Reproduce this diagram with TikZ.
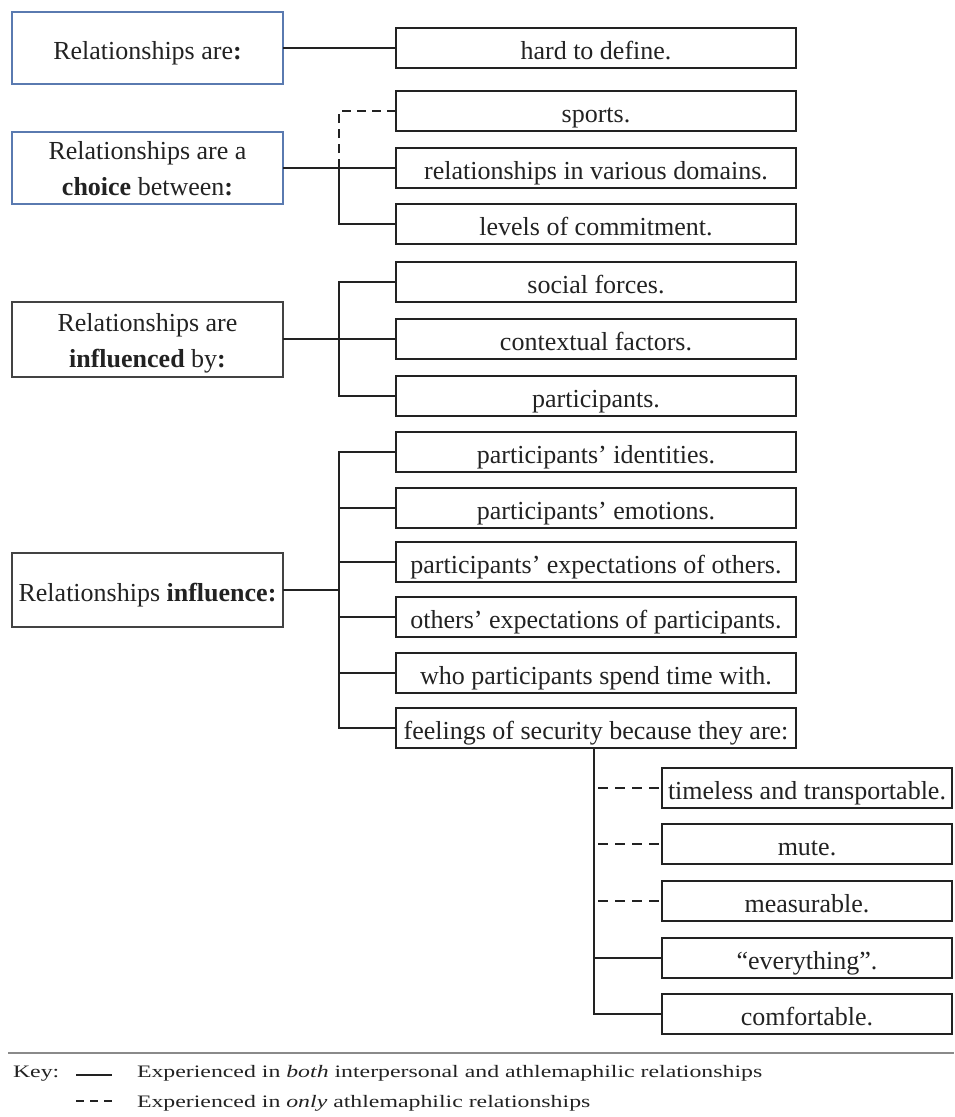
\documentclass[tikz,border=0pt]{standalone}
\usepackage{fontspec}
\setmainfont{Liberation Serif}
\usepackage{graphicx}
\definecolor{bluebd}{HTML}{5A7AB0}
\definecolor{ink}{HTML}{222222}
\definecolor{rulegray}{HTML}{8A8A8A}
\begin{document}
\begin{tikzpicture}[x=1pt,y=-1pt,
  every node/.style={font=\fontsize{26}{36}\selectfont, text=ink, inner sep=0pt, outer sep=0pt},
  lbox/.style={draw=ink!85, line width=1.6pt, minimum width=271pt, align=center},
  one/.style={text height=22pt, text depth=0pt},
  rbox/.style={one, draw=ink, line width=2pt, minimum width=400pt, minimum height=40pt},
  sbox/.style={one, draw=ink, line width=2pt, minimum width=290pt, minimum height=40pt},
  conn/.style={draw=ink, line width=2pt},
  dconn/.style={conn, dash pattern=on 9pt off 6pt},
  keyfont/.style={font=\fontsize{17.5}{20}\selectfont, text=ink, anchor=base west}]
\useasboundingbox (0,0) rectangle (954,1117);

% left boxes
\node[lbox, one, draw=bluebd, minimum height=72pt] (L1) at (147.5,48) {Relationships are\textbf{:}};
\node[lbox, draw=bluebd, minimum height=72pt] (L2) at (147.5,168) {\rule{0pt}{19pt}Relationships are a\\\textbf{choice} between\textbf{:}};
\node[lbox, minimum height=75pt] (L3) at (147.5,339.5) {\rule{0pt}{26pt}Relationships are\\\textbf{influenced} by\textbf{:}};
\node[lbox, one, minimum height=74pt] (L4) at (147.5,590) {Relationships \textbf{influence:}};

% right boxes
\node[rbox] (R1) at (596,48) {hard to define.};
\node[rbox] (R2) at (596,111) {sports.};
\node[rbox] (R3) at (596,168) {relationships in various domains.};
\node[rbox] (R4) at (596,224) {levels of commitment.};
\node[rbox] (R5) at (596,282) {social forces.};
\node[rbox] (R6) at (596,339) {contextual factors.};
\node[rbox] (R7) at (596,396) {participants.};
\node[rbox] (R8) at (596,452) {participants’ identities.};
\node[rbox] (R9) at (596,508) {participants’ emotions.};
\node[rbox] (R10) at (596,562) {participants’ expectations of others.};
\node[rbox] (R11) at (596,617) {others’ expectations of participants.};
\node[rbox] (R12) at (596,673) {who participants spend time with.};
\node[rbox] (R13) at (596,728) {feelings of security because they are:};

% sub boxes
\node[sbox] (S1) at (807,788) {timeless and transportable.};
\node[sbox] (S2) at (807,844) {mute.};
\node[sbox] (S3) at (807,901) {measurable.};
\node[sbox] (S4) at (807,958) {“everything”.};
\node[sbox] (S5) at (807,1014) {comfortable.};

% connectors
\draw[conn] (L1.east) -- (R1.west);

\coordinate (T2) at (339,168);
\draw[conn] (L2.east) -- (R3.west);
\draw[dconn] (T2) -- (T2 |- R2.west) -- (R2.west);
\draw[conn] (T2) -- (T2 |- R4.west) -- (R4.west);

\coordinate (T3) at (339,339);
\draw[conn] (L3.east |- R6.west) -- (R6.west);
\draw[conn] (R5.west) -- (R5.west -| T3) -- (R7.west -| T3) -- (R7.west);

\coordinate (T4) at (339,590);
\draw[conn] (L4.east) -- (T4);
\draw[conn] (R8.west) -- (R8.west -| T4) -- (R13.west -| T4) -- (R13.west);
\foreach \r in {R9,R10,R11,R12} {\draw[conn] (\r.west -| T4) -- (\r.west);}

\coordinate (F) at (594,748);
\draw[conn] (F) -- (F |- S5.west) -- (S5.west);
\draw[conn] (F |- S4.west) -- (S4.west);
\foreach \s in {S1,S2,S3} {\draw[dconn, dash pattern=on 10pt off 7pt, dash phase=-4pt] (F |- \s.west) -- (\s.west);}

% key
\coordinate (K0) at (8,1053);
\coordinate (K1) at (954,1053);
\draw[line width=2pt, draw=rulegray] (K0) -- (K1);
\node[keyfont] (key) at (13,1077) {\scalebox{1.36}[1]{Key:}};
\coordinate (ka) at (76,1075);
\coordinate (kb) at (112,1075);
\draw[conn, line width=1.6pt] (ka) -- (kb);
\node[keyfont] (k1) at (137,1077) {\scalebox{1.36}[1]{Experienced in \textit{both} interpersonal and athlemaphilic relationships}};
\coordinate (kc) at (76,1101);
\coordinate (kd) at (112,1101);
\draw[conn, line width=1.6pt, dash pattern=on 8pt off 6pt] (kc) -- (kd);
\node[keyfont] (k2) at (137,1107) {\scalebox{1.36}[1]{Experienced in \textit{only} athlemaphilic relationships}};
\end{tikzpicture}
\end{document}
